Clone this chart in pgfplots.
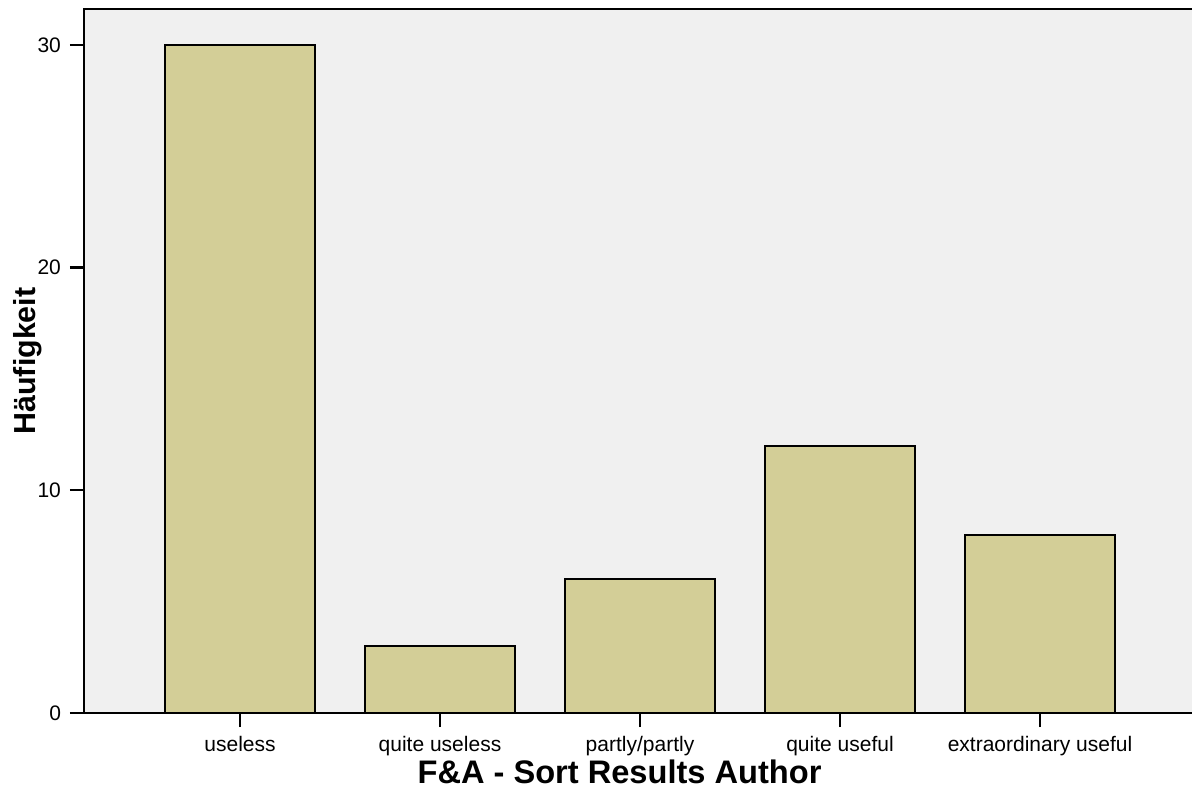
\documentclass[border=0pt]{standalone}
\usepackage{pgfplots}
\pgfplotsset{compat=1.18}
\usepackage{fontspec}
\setmainfont{Liberation Sans}
\definecolor{bgc}{RGB}{240,240,240}
\definecolor{barc}{RGB}{211,206,151}
\begin{document}
\begin{tikzpicture}
\begin{axis}[
  name=ax,
  scale only axis,
  width=556pt, height=352pt,
  xmin=-0.78, xmax=4.78,
  ymin=0, ymax=31.61,
  axis background/.style={fill=bgc},
  axis line style={line width=1.2pt},
  tick pos=left,
  tick align=outside,
  major tick length=7pt,
  tick style={line width=1.2pt, black},
  xtick={0,1,2,3,4},
  xticklabels={useless,quite useless,partly/partly,quite useful,extraordinary useful},
  ytick={0,10,20,30},
  /pgf/number format/assume math mode=true,
  ticklabel style={font=\fontsize{10.5}{12}\selectfont},
  xticklabel style={yshift=-1pt},
  yticklabel style={xshift=-1pt},
  xlabel={F\&A - Sort Results Author},
  ylabel={Häufigkeit},
  xlabel style={font=\fontsize{16.3}{19}\selectfont\bfseries, at={(axis description cs:0.4816,0)}, anchor=center, yshift=-29.5pt},
  ylabel style={font=\fontsize{15.2}{18}\selectfont\bfseries, at={(axis description cs:-0.0504,0.5)}, anchor=center},
]
\addplot[ybar, bar width=0.75, fill=barc, draw=black, line width=1pt] coordinates {(0,30) (1,3) (2,6) (3,12) (4,8)};
\end{axis}
\pgfresetboundingbox
\path[use as bounding box] ([xshift=-42pt,yshift=-42.5pt]ax.south west) rectangle ([xshift=-2pt,yshift=4.5pt]ax.north east);
\end{tikzpicture}
\end{document}
